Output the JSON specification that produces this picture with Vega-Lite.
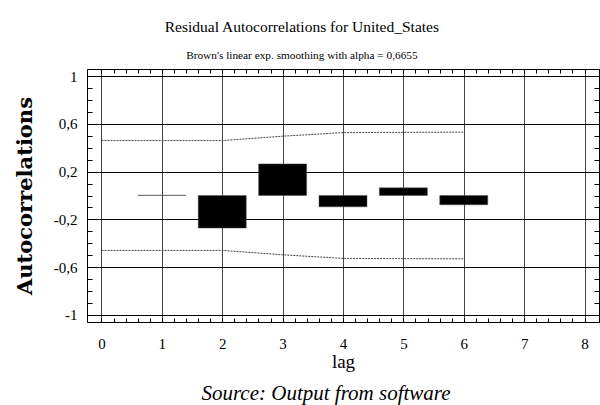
{
  "$schema": "https://vega.github.io/schema/vega-lite/v6.json",
  "padding": {"left": 13, "top": 20, "right": 1, "bottom": 0},
  "background": "white",
  "title": {
    "text": "Residual Autocorrelations for United_States",
    "subtitle": "Brown's linear exp. smoothing with alpha = 0,6655",
    "font": "Liberation Serif",
    "fontSize": 15.5,
    "fontWeight": "normal",
    "subtitleFont": "Liberation Serif",
    "subtitleFontSize": 11.3,
    "subtitleColor": "black",
    "subtitlePadding": 14,
    "color": "black",
    "anchor": "middle",
    "offset": 7,
    "dx": -5
  },
  "datasets": {
    "acf": [
      {"lag": 1, "acf": 0.003},
      {"lag": 2, "acf": -0.273},
      {"lag": 3, "acf": 0.265},
      {"lag": 4, "acf": -0.095},
      {"lag": 5, "acf": 0.064},
      {"lag": 6, "acf": -0.078}
    ],
    "limits": [
      {"lag": 0, "side": "upper", "bound": 0.46},
      {"lag": 1, "side": "upper", "bound": 0.46},
      {"lag": 2, "side": "upper", "bound": 0.46},
      {"lag": 3, "side": "upper", "bound": 0.497},
      {"lag": 4, "side": "upper", "bound": 0.527},
      {"lag": 5, "side": "upper", "bound": 0.529},
      {"lag": 6, "side": "upper", "bound": 0.531},
      {"lag": 0, "side": "lower", "bound": -0.46},
      {"lag": 1, "side": "lower", "bound": -0.46},
      {"lag": 2, "side": "lower", "bound": -0.46},
      {"lag": 3, "side": "lower", "bound": -0.497},
      {"lag": 4, "side": "lower", "bound": -0.527},
      {"lag": 5, "side": "lower", "bound": -0.529},
      {"lag": 6, "side": "lower", "bound": -0.531}
    ]
  },
  "vconcat": [
    {
      "width": 512,
      "height": 253,
      "title": {
        "text": "Source: Output from software",
        "orient": "bottom",
        "font": "Liberation Serif",
        "fontStyle": "italic",
        "fontWeight": "normal",
        "fontSize": 21,
        "color": "black",
        "anchor": "middle",
        "offset": 12,
        "dx": -17
      },
      "layer": [
        {
          "data": {"name": "acf"},
          "mark": {"type": "bar", "width": 48, "color": "black", "stroke": "#555", "strokeWidth": 0.5},
          "encoding": {
            "x": {
              "field": "lag", "type": "quantitative",
              "scale": {"domain": [-0.24, 8.24], "nice": false, "zero": false, "padding": 0},
              "axis": {
                "orient": "bottom",
                "title": "lag",
                "titleFont": "Liberation Serif",
                "titleFontSize": 19,
                "titleFontWeight": "normal",
                "titleColor": "black",
                "titlePadding": 1,
                "values": [0,0.2,0.4,0.6,0.8,1,1.2,1.4,1.6,1.8,2,2.2,2.4,2.6,2.8,3,3.2,3.4,3.6,3.8,4,4.2,4.4,4.6,4.8,5,5.2,5.4,5.6,5.8,6,6.2,6.4,6.6,6.8,7,7.2,7.4,7.6,7.8,8],
                "labelExpr": "datum.value % 1 == 0 ? datum.value + '' : ''",
                "labelFont": "Liberation Serif",
                "labelFontSize": 15,
                "labelColor": "black",
                "labelPadding": 18,
                "labelFlush": false,
                "tickSize": -4,
                "tickColor": "black",
                "domainColor": "black",
                "grid": true,
                "gridColor": "#444",
                "gridOpacity": {"condition": {"test": "datum.value % 1 == 0", "value": 1}, "value": 0}
              }
            },
            "y": {
              "field": "acf", "type": "quantitative",
              "scale": {"domain": [-1.06, 1.06], "nice": false, "zero": false},
              "axis": {
                "orient": "left",
                "title": "Autocorrelations",
                "titleFont": "DejaVu Serif",
                "titleFontSize": 21,
                "titleFontWeight": "bold",
                "titleColor": "black",
                "titlePadding": 18,
                "values": [-1,-0.9,-0.8,-0.7,-0.6,-0.5,-0.4,-0.3,-0.2,-0.1,0,0.1,0.2,0.3,0.4,0.5,0.6,0.7,0.8,0.9,1],
                "labelExpr": "indexof([1,0.6,0.2,-0.2,-0.6,-1], datum.value) >= 0 ? replace(datum.value + '', '.', ',') : ''",
                "labelFont": "Liberation Serif",
                "labelFontSize": 15,
                "labelColor": "black",
                "labelPadding": 15,
                "labelFlush": false,
                "tickSize": -5,
                "tickColor": "black",
                "domainColor": "black",
                "grid": true,
                "gridColor": "black",
                "gridOpacity": {"condition": {"test": "indexof([1,0.6,0.2,-0.2,-0.6,-1], datum.value) >= 0", "value": 1}, "value": 0}
              }
            },
            "y2": {"datum": 0}
          }
        },
        {
          "data": {"name": "limits"},
          "mark": {"type": "line", "color": "#444", "strokeWidth": 1, "strokeDash": [2, 1]},
          "encoding": {
            "x": {
              "field": "lag", "type": "quantitative",
              "axis": {
                "orient": "top",
                "title": null,
                "values": [0,0.2,0.4,0.6,0.8,1,1.2,1.4,1.6,1.8,2,2.2,2.4,2.6,2.8,3,3.2,3.4,3.6,3.8,4,4.2,4.4,4.6,4.8,5,5.2,5.4,5.6,5.8,6,6.2,6.4,6.6,6.8,7,7.2,7.4,7.6,7.8,8],
                "labels": false,
                "grid": false,
                "tickSize": -4,
                "tickColor": "black",
                "domainColor": "black"
              }
            },
            "y": {
              "field": "bound", "type": "quantitative",
              "axis": {
                "orient": "right",
                "title": null,
                "values": [-1,-0.9,-0.8,-0.7,-0.6,-0.5,-0.4,-0.3,-0.2,-0.1,0,0.1,0.2,0.3,0.4,0.5,0.6,0.7,0.8,0.9,1],
                "labels": false,
                "grid": false,
                "tickSize": -5,
                "tickColor": "black",
                "domainColor": "black"
              }
            },
            "detail": {"field": "side", "type": "nominal"}
          }
        }
      ],
      "resolve": {"axis": {"x": "independent", "y": "independent"}}
    }
  ],
  "config": {
    "view": {"stroke": "black", "strokeWidth": 1},
    "font": "Liberation Serif"
  }
}
